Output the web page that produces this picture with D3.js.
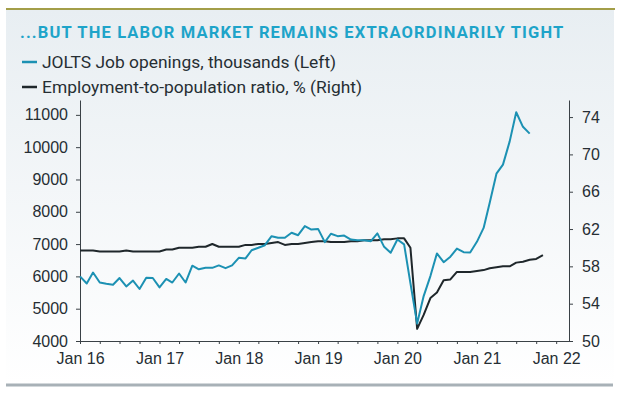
<!DOCTYPE html>
<html>
<head>
<meta charset="utf-8">
<script src="https://cdn.jsdelivr.net/npm/d3@7"></script>
<style>
  body { margin: 0; background: #fff; }
  svg { display: block; font-family: Roboto, "Liberation Sans", sans-serif; }
  .axis text { font-size: 16px; fill: #262e33; }
  .axis path, .axis line { stroke: #3a4146; stroke-width: 1; }
</style>
</head>
<body>
<svg id="chart" width="621" height="393"></svg>
<script>
// data: monthly, first month Jan 2016
var startMonth = new Date(2016, 0, 1);

// JOLTS job openings, thousands (Jan 2016 - Sep 2021)
var joltsValues = [
  6000, 5780, 6120, 5810, 5770, 5740, 5950, 5690, 5870, 5610, 5960, 5950,
  5660, 5920, 5810, 6090, 5810, 6330, 6220, 6265, 6265, 6340, 6255, 6340,
  6575, 6555, 6810, 6885, 6965, 7245, 7195, 7195, 7350, 7275, 7555, 7450,
  7470, 7060, 7320, 7245, 7265, 7140, 7120, 7120, 7090, 7330, 6915, 6730,
  7140, 6990, 5790, 4540, 5390, 6010, 6710, 6440, 6610, 6860, 6750, 6740,
  7070, 7500, 8280, 9180, 9460, 10180, 11080, 10630, 10420
];

// Employment-to-population ratio, % (Jan 2016 - Nov 2021)
var epopValues = [
  59.7, 59.7, 59.7, 59.6, 59.6, 59.6, 59.6, 59.7, 59.6, 59.6, 59.6, 59.6,
  59.6, 59.8, 59.8, 60.0, 60.0, 60.0, 60.1, 60.1, 60.4, 60.1, 60.1, 60.1,
  60.1, 60.3, 60.3, 60.4, 60.4, 60.5, 60.6, 60.3, 60.4, 60.4, 60.5, 60.6,
  60.7, 60.7, 60.6, 60.6, 60.6, 60.7, 60.7, 60.8, 60.8, 60.8, 60.9, 60.9,
  61.0, 61.0, 60.0, 51.3, 52.8, 54.6, 55.2, 56.5, 56.6, 57.4, 57.4, 57.4,
  57.5, 57.6, 57.8, 57.9, 58.0, 58.0, 58.4, 58.5, 58.7, 58.8, 59.2
];

var leftTicks = [4000, 5000, 6000, 7000, 8000, 9000, 10000, 11000];
var rightTicks = [50, 54, 58, 62, 66, 70, 74];

var titleText = "...BUT THE LABOR MARKET REMAINS EXTRAORDINARILY TIGHT";
var legendItems = ["JOLTS Job openings, thousands (Left)", "Employment-to-population ratio, % (Right)"];

var tealColor = "#1c91b3", darkColor = "#1f272b";

var svg = d3.select("#chart");

// panel background
var defs = svg.append("defs");
var grad = defs.append("linearGradient").attr("id", "bg").attr("x1", 0).attr("y1", 0).attr("x2", 0).attr("y2", 1);
grad.append("stop").attr("offset", "0%").attr("stop-color", "#e8eef2");
grad.append("stop").attr("offset", "100%").attr("stop-color", "#ffffff");

svg.append("rect").attr("x", 6).attr("y", 10).attr("width", 608).attr("height", 374).attr("fill", "url(#bg)");
svg.append("line").attr("x1", 6).attr("x2", 615).attr("y1", 9).attr("y2", 9)
  .attr("stroke", "#a39e48").attr("stroke-width", 2);
svg.append("line").attr("x1", 6).attr("x2", 613).attr("y1", 385).attr("y2", 385)
  .attr("stroke", "#a8b1b7").attr("stroke-width", 3);

// title + legend
svg.append("text").attr("x", 20).attr("y", 38)
  .attr("fill", "#1ea4c9").attr("font-size", 16.5).attr("font-weight", "bold")
  .attr("letter-spacing", 1.15)
  .text(titleText);

var legColors = [tealColor, darkColor];
legendItems.forEach(function(t, i) {
  var y = 62 + i * 25;
  svg.append("line").attr("x1", 22).attr("x2", 37).attr("y1", y).attr("y2", y)
    .attr("stroke", legColors[i]).attr("stroke-width", 2.5);
  svg.append("text").attr("x", 42).attr("y", y + 6)
    .attr("fill", "#262e33").attr("font-size", 17.4).text(t);
});

// scales
var x = d3.scaleTime().domain([new Date(2016, 0, 1), new Date(2022, 2, 1)]).range([80, 569]);
var yL = d3.scaleLinear().domain([4000, 11460]).range([341, 100]);
var yR = d3.scaleLinear().domain([50, 75.83]).range([341, 100]);

function monthDate(i) { return d3.timeMonth.offset(startMonth, i); }

// axes
var fmt = d3.timeFormat("%b %y");
svg.append("g").attr("class", "axis").attr("transform", "translate(0,341)")
  .call(d3.axisBottom(x).ticks(d3.timeMonth.every(3)).tickSize(3).tickSizeOuter(0)
    .tickFormat(function(d) { return d.getMonth() === 0 ? fmt(d) : ""; }))
  .selectAll("text").attr("dy", "1.05em");

svg.append("g").attr("class", "axis").attr("transform", "translate(80,0)")
  .call(d3.axisLeft(yL).tickValues(leftTicks).tickSize(4).tickSizeOuter(0).tickPadding(8).tickFormat(d3.format("d")));

svg.append("g").attr("class", "axis").attr("transform", "translate(569,0)")
  .call(d3.axisRight(yR).tickValues(rightTicks).tickSize(4).tickSizeOuter(0).tickPadding(9));

// lines
var lineL = d3.line().x(function(d, i) { return x(monthDate(i)); }).y(function(d) { return yL(d); });
var lineR = d3.line().x(function(d, i) { return x(monthDate(i)); }).y(function(d) { return yR(d); });

svg.append("path").datum(epopValues).attr("d", lineR)
  .attr("fill", "none").attr("stroke", darkColor).attr("stroke-width", 2).attr("stroke-linejoin", "round");
svg.append("path").datum(joltsValues).attr("d", lineL)
  .attr("fill", "none").attr("stroke", tealColor).attr("stroke-width", 2).attr("stroke-linejoin", "round");
</script>
</body>
</html>
